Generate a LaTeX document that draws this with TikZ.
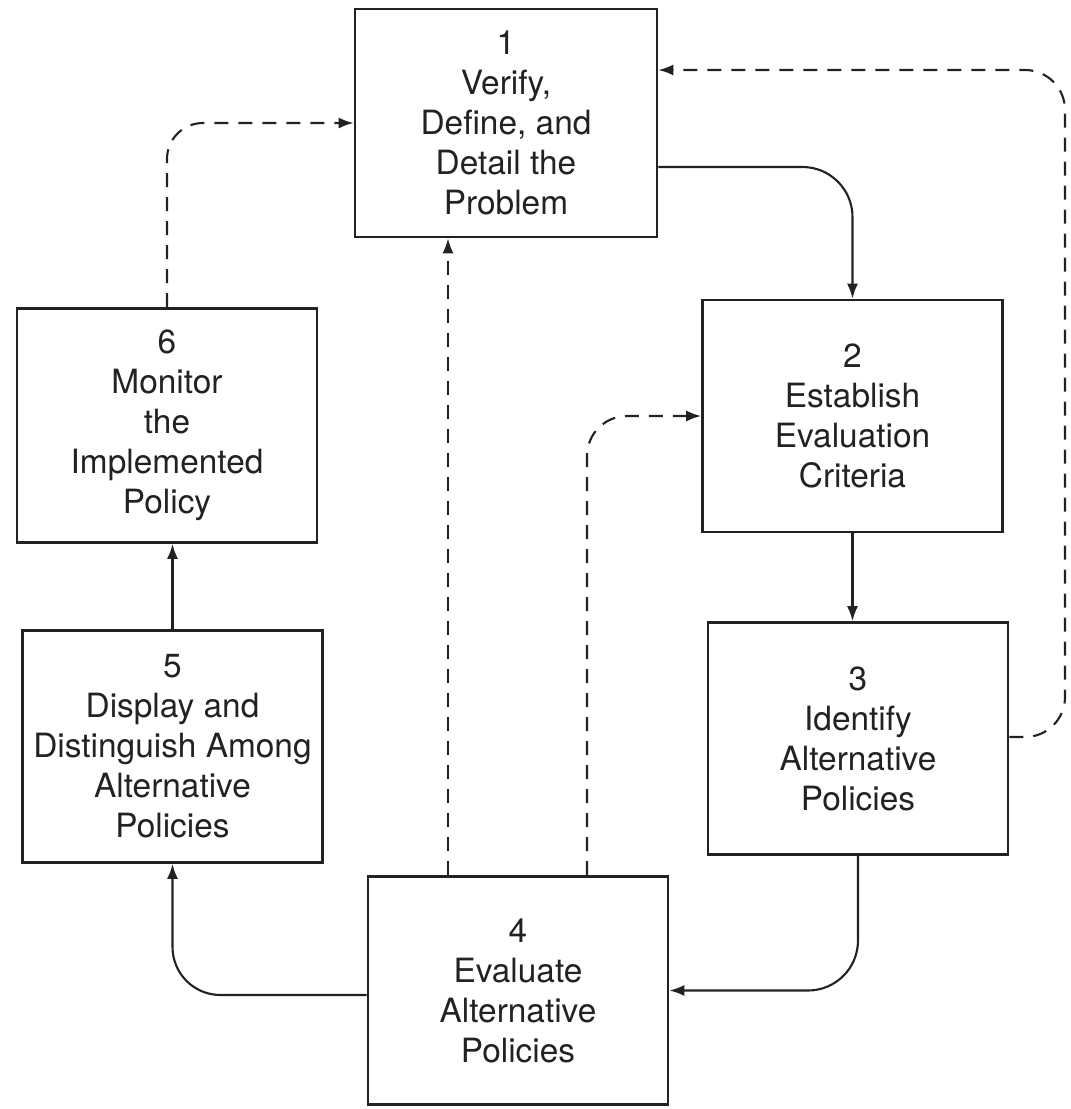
\documentclass[tikz,border=0pt]{standalone}
\usepackage{fontspec}
\setmainfont{TeX Gyre Heros}
\usetikzlibrary{arrows.meta}
\definecolor{ink}{HTML}{222222}
\begin{document}
\begin{tikzpicture}[x=0.5pt,y=-0.5pt,
  stage/.style={draw=ink, line width=1.3pt, fill=white, inner sep=0pt,
    minimum width=150pt, minimum height=116pt, align=center, text=ink,
    font=\fontsize{16.7}{20}\selectfont},
  flow/.style={draw=ink, line width=1.05pt, -{Latex[length=7.5pt,width=5.5pt]}},
  feedback/.style={flow, dash pattern=on 7pt off 5pt}]
\useasboundingbox (0,0) rectangle (1071,1109);

% process stages
\node[stage, minimum width=151pt, minimum height=114pt] (b1) at (506,123)
  {1\\Verify,\\Define, and\\Detail the\\Problem};
\node[stage] (b2) at (852.5,416) {2\\Establish\\Evaluation\\Criteria};
\node[stage] (b3) at (858,738.5) {3\\Identify\\Alternative\\Policies};
\node[stage, minimum height=114pt] (b4) at (518,990.5) {4\\Evaluate\\Alternative\\Policies};
\node[stage] (b5) at (172.5,746.5) {5\\Display and\\Distinguish Among\\Alternative\\Policies};
\node[stage, minimum height=117pt] (b6) at (167,425.5) {6\\Monitor\\the\\Implemented\\Policy};

% main cycle
\draw[flow, rounded corners=25pt] (b1.east |- 0,167) -| (b2.north);
\draw[flow] (b2.south) -- (b2.south |- b3.north);
\draw[flow, rounded corners=25pt] (b3.south) |- (b4.east);
\draw[flow, rounded corners=24pt] (b4.west |- 0,995) -| (b5.south);
\draw[flow] (b5.north) -- (b5.north |- b6.south);

% feedback loops
\coordinate (loop) at (1065,70);
\draw[feedback, rounded corners=18pt] (b6.north) |- (b1.west);
\draw[feedback] (b4.north -| 448,0) -- (b1.south -| 448,0);
\draw[feedback, rounded corners=20pt] (b4.north -| 587,0) |- (b2.west);
\draw[feedback, rounded corners=20pt] (b3.east |- 0,737) -| (loop) -- (b1.east |- loop);
\end{tikzpicture}
\end{document}
